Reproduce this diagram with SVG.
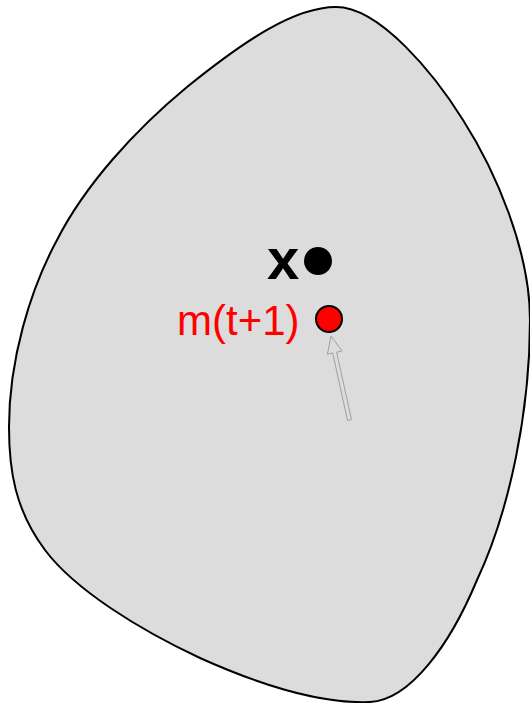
<svg xmlns="http://www.w3.org/2000/svg" width="530" height="703" viewBox="0 0 530 703">
<style>
.lbl{font-family:"Liberation Sans",Arial,sans-serif}
</style>
<rect width="530" height="703" fill="#fff"/>
<g id="region">
<path d="M336,7 C380,7 435,75 463,120 C495,170 530,250 530,320 C530,410 510,510 477,580 C450,645 410,700 370,702 C320,704 260,685 200,658 C140,630 75,590 45,550 C15,510 9,470 9,427 C9,360 30,290 57,240 C85,185 135,130 187,87 C245,40 295,7 336,7 Z" fill="#dcdcdc" stroke="#000" stroke-width="2"/>
</g>
<g id="x">
<circle cx="318" cy="261" r="14" fill="#000"/>
<text class="lbl" x="267" y="279" font-size="58" font-weight="bold" fill="#000">x</text>
</g>
<g id="m">
<circle cx="329" cy="319" r="13" fill="#f00" stroke="#000" stroke-width="2"/>
<text class="lbl" x="177" y="335" font-size="42" fill="#f00">m(t+1)</text>
</g>
<g id="connectors">
<polygon points="331,336 342,351 336.6,352.2 351.5,419.6 347.5,420.4 332.7,353 327.4,354.2" fill="none" stroke="#a0a0a0" stroke-width="1"/>
</g>
</svg>
